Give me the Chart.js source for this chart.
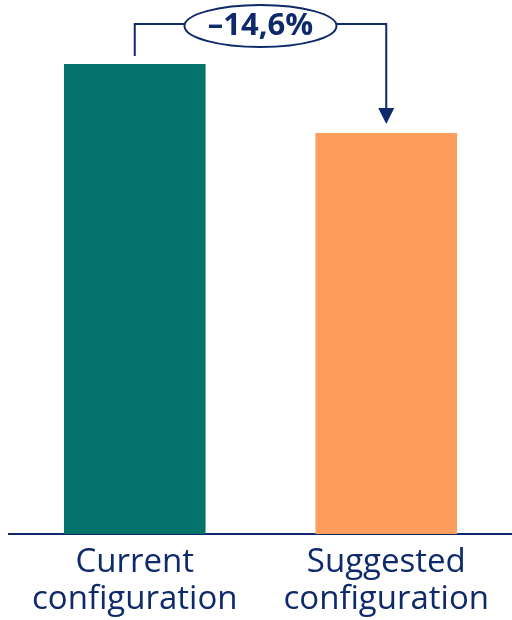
<!DOCTYPE html>
<html>
<head>
<meta charset="utf-8">
<script src="https://cdn.jsdelivr.net/npm/chart.js@4"></script>
<style>
  html, body { margin: 0; padding: 0; background: #fff; }
  #wrap { width: 512px; height: 620px; position: relative; }
</style>
</head>
<body>
<div id="wrap"><canvas id="configChart"></canvas></div>
<script>
const categories = [['Current', 'configuration'], ['Suggested', 'configuration']];
const values = [100, 85.3];
const barColors = ['#03736b', '#ff9d5c'];
const changeLabel = '–14,6%';

const navy = '#0e2a6b';

// bracket with the percentage change between the two bars
const changeBracket = {
    id: 'changeBracket',
    afterDraw(chart) {
        const c = chart.ctx;
        const x = chart.scales.x;
        const y = chart.scales.y;
        const xa = x.getPixelForValue(0);
        const xb = x.getPixelForValue(1);
        const ya = y.getPixelForValue(values[0]) - 8;
        const yb = y.getPixelForValue(values[1]) - 9;
        const top = 24;
        const mid = (xa + xb) / 2;
        const rx = 76, ry = 21;

        c.save();
        c.strokeStyle = navy;
        c.fillStyle = navy;
        c.lineWidth = 2;
        c.beginPath();
        c.moveTo(xa, ya);
        c.lineTo(xa, top);
        c.lineTo(mid - rx, top);
        c.moveTo(mid + rx, top);
        c.lineTo(xb, top);
        c.lineTo(xb, yb - 14);
        c.stroke();

        // arrow head
        c.beginPath();
        c.moveTo(xb - 8, yb - 16);
        c.lineTo(xb + 8, yb - 16);
        c.lineTo(xb, yb);
        c.closePath();
        c.fill();

        c.beginPath();
        c.ellipse(mid, top + 2, rx, ry, 0, 0, Math.PI * 2);
        c.fillStyle = '#fff';
        c.fill();
        c.stroke();

        c.fillStyle = navy;
        c.font = 'bold 31px "Open Sans"';
        c.textAlign = 'center';
        c.textBaseline = 'middle';
        c.fillText(changeLabel, mid, top + 2);
        c.restore();
    }
};

const ctx = document.getElementById('configChart').getContext('2d');
const configChart = new Chart(ctx, {
    type: 'bar',
    data: {
        labels: categories,
        datasets: [{
            data: values,
            backgroundColor: barColors,
            barPercentage: 0.563,
            categoryPercentage: 1
        }]
    },
    options: {
        responsive: true,
        maintainAspectRatio: false,
        animation: false,
        layout: {
            padding: { top: 64, left: 9, right: -2, bottom: -8 }
        },
        plugins: {
            legend: { display: false },
            tooltip: { enabled: false }
        },
        scales: {
            y: {
                display: false,
                min: 0,
                max: 100
            },
            x: {
                grid: { display: false, drawTicks: false },
                border: { display: true, color: navy, width: 2 },
                ticks: {
                    color: navy,
                    padding: 10,
                    font: { family: 'Open Sans', size: 33, lineHeight: 1.12 }
                }
            }
        }
    },
    plugins: [changeBracket]
});
</script>
</body>
</html>
